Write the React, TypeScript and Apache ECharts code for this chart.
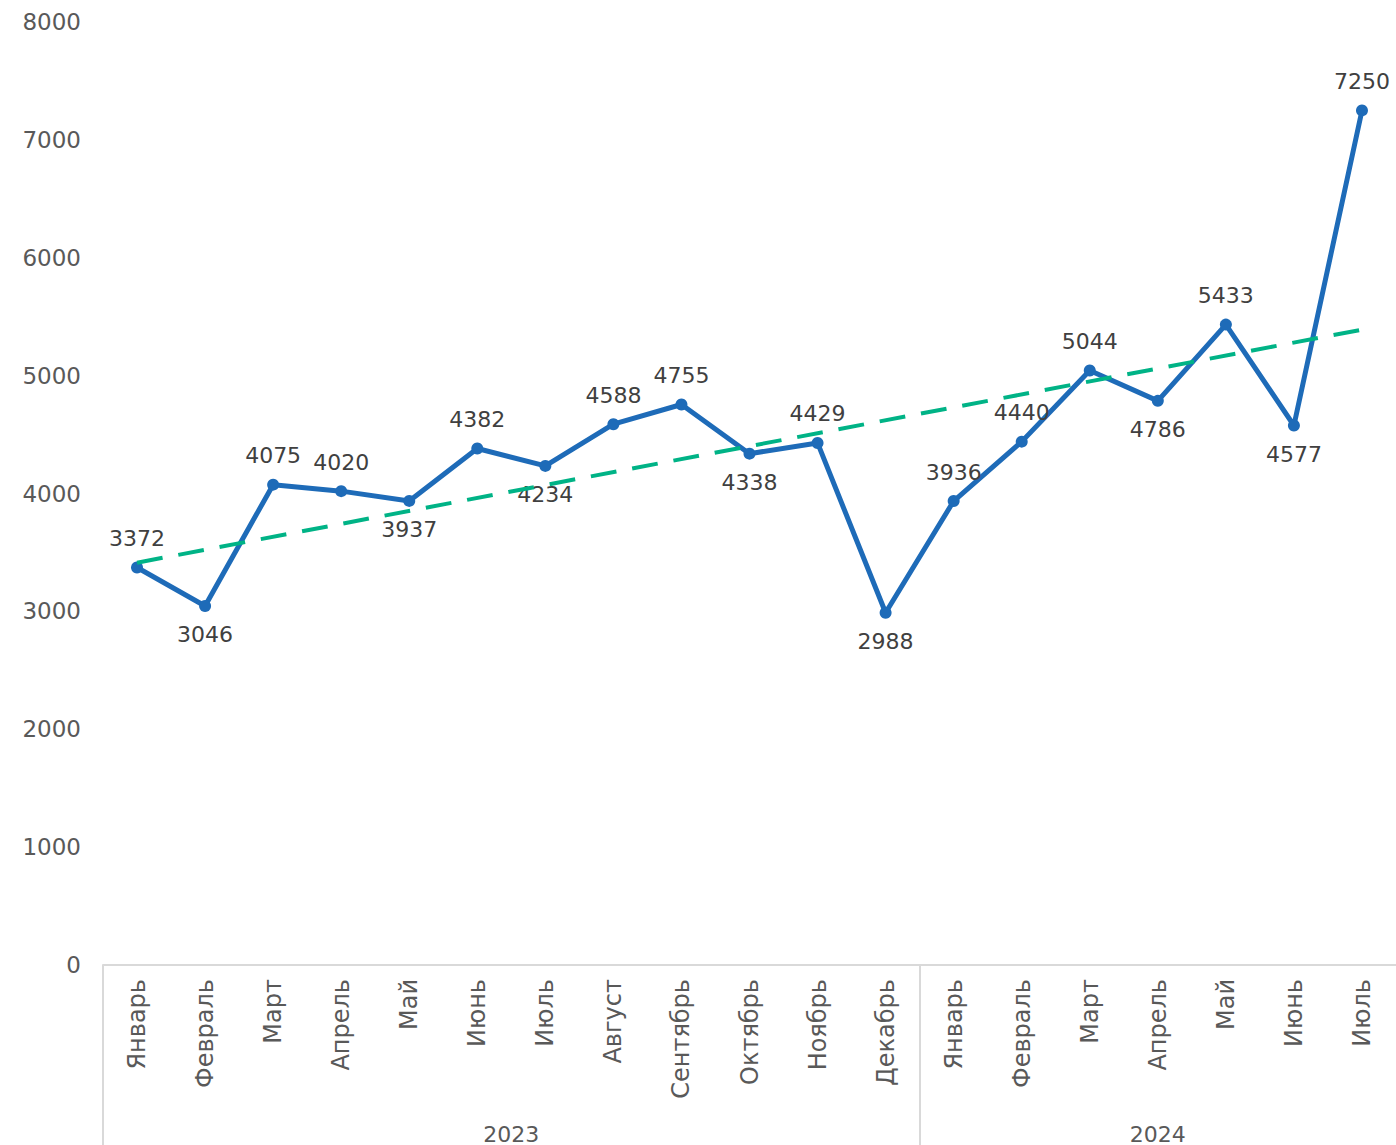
import React, { useEffect, useRef } from "react";
import * as echarts from "echarts";

const months = [
  "Январь", "Февраль", "Март", "Апрель", "Май", "Июнь", "Июль", "Август", "Сентябрь",
  "Октябрь", "Ноябрь", "Декабрь", "Январь", "Февраль", "Март", "Апрель", "Май", "Июнь", "Июль",
];
const values = [
  3372, 3046, 4075, 4020, 3937, 4382, 4234, 4588, 4755, 4338, 4429, 2988, 3936, 4440, 5044, 4786, 5433, 4577, 7250,
];
const labelPlace = [
  "top", "bottom", "top", "top", "bottom", "top", "bottom", "top", "top", "bottom",
  "top", "bottom", "top", "top", "top", "bottom", "top", "bottom", "top",
];
const years = ["2023", "2024"];
const yearMonths = [12, 7];
const trendEnds = [3413, 5390];
const yTicks = [0, 1000, 2000, 3000, 4000, 5000, 6000, 7000, 8000];

const FONT = "DejaVu Sans";
const GRAY = "#595959";
const AXIS = "#D9D9D9";

export default function App() {
  const ref = useRef<HTMLDivElement>(null);
  useEffect(() => {
    if (!ref.current) return;
    const chart = echarts.init(ref.current, undefined, { renderer: "svg" });

    const totalHalf = months.length * 2;
    const yearSlots: string[] = [];
    for (let i = 0; i <= totalHalf; i++) yearSlots.push("s" + i);
    const boundaries: number[] = [0];
    const centers: Record<number, string> = {};
    let acc = 0;
    years.forEach((y, k) => {
      const start = acc;
      acc += yearMonths[k] * 2;
      centers[(start + acc) / 2] = y;
      boundaries.push(acc);
    });
    Object.keys(centers).forEach((k) => (yearSlots[Number(k)] = centers[Number(k)]));

    chart.setOption({
      animation: false,
      grid: { left: 103, right: 0, top: 22, bottom: 180, containLabel: false },
      xAxis: [
        {
          type: "category",
          data: months,
          boundaryGap: true,
          axisLine: { show: true, lineStyle: { color: AXIS, width: 2 } },
          axisTick: { show: false },
          axisLabel: {
            rotate: 90,
            interval: 0,
            margin: 14,
            color: GRAY,
            fontFamily: FONT,
            fontSize: 24,
          },
          splitLine: { show: false },
        },
        {
          type: "category",
          data: yearSlots,
          boundaryGap: false,
          position: "bottom",
          axisLine: { show: false },
          axisTick: {
            show: true,
            length: 182,
            interval: (i: number) => boundaries.indexOf(i) >= 0 && i < totalHalf,
            lineStyle: { color: AXIS, width: 2 },
          },
          axisLabel: {
            interval: (i: number) => centers[i] !== undefined,
            margin: 158,
            color: GRAY,
            fontFamily: FONT,
            fontSize: 22,
          },
          splitLine: { show: false },
        },
      ],
      yAxis: {
        type: "value",
        min: yTicks[0],
        max: yTicks[yTicks.length - 1],
        interval: 1000,
        axisLine: { show: false },
        axisTick: { show: false },
        splitLine: { show: false },
        axisLabel: {
          color: GRAY,
          fontFamily: FONT,
          fontSize: 23,
          margin: 22,
          formatter: (v: number) => String(v),
        },
      },
      series: [
        {
          type: "line",
          xAxisIndex: 0,
          data: values.map((v, i) => ({
            value: v,
            label: { position: labelPlace[i] },
          })),
          lineStyle: { color: "#1E6BB8", width: 5 },
          itemStyle: { color: "#1E6BB8" },
          symbol: "circle",
          symbolSize: 12,
          label: {
            show: true,
            distance: 12,
            color: "#404040",
            fontFamily: FONT,
            fontSize: 22,
          },
          markLine: {
            silent: true,
            symbol: "none",
            label: { show: false },
            lineStyle: { color: "#00B386", width: 4, type: [26, 16], opacity: 1 },
            data: [
              [
                { coord: [0, trendEnds[0]] },
                { coord: [months.length - 1, trendEnds[1]] },
              ],
            ],
          },
          z: 2,
        },
      ],
    });
    return () => chart.dispose();
  }, []);
  return (
    <div
      ref={ref}
      style={{ position: "absolute", left: 0, top: 0, width: 1396, height: 1145 }}
    />
  );
}
